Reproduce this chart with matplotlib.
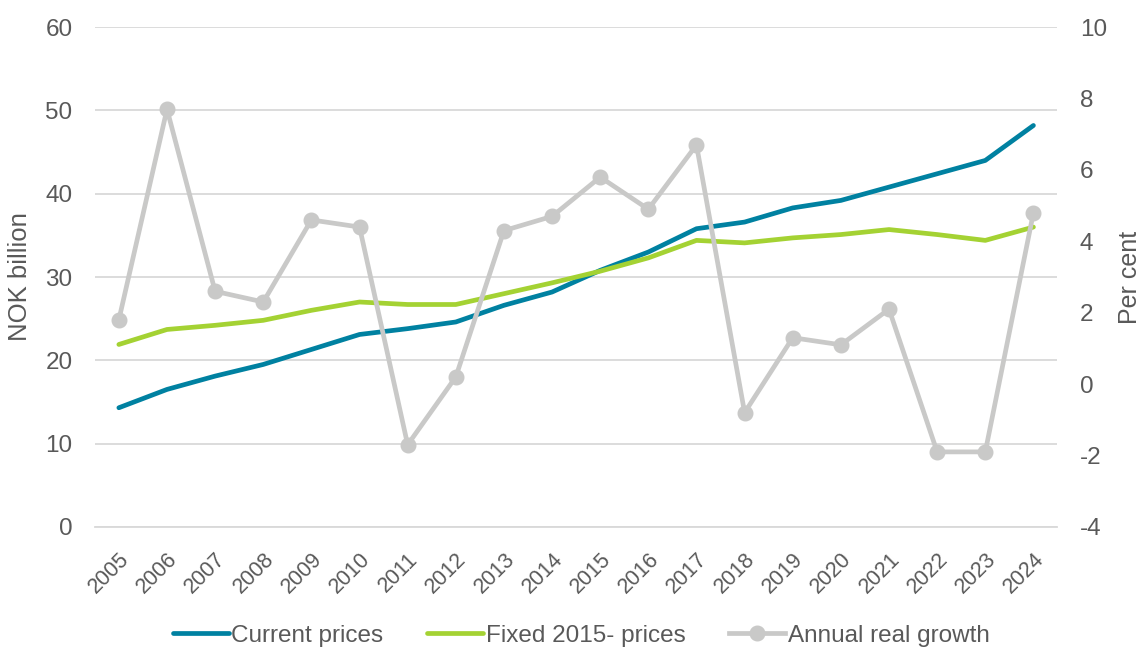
import matplotlib.pyplot as plt
from matplotlib.lines import Line2D

plt.rcParams["font.family"] = ["Liberation Sans", "DejaVu Sans"]
plt.rcParams["axes.unicode_minus"] = False

years = [str(y) for y in range(2005, 2025)]
current_prices = [14.3, 16.5, 18.1, 19.5, 21.3, 23.1, 23.8, 24.6, 26.6, 28.2,
                  30.8, 33.0, 35.8, 36.6, 38.3, 39.2, 40.8, 42.4, 44.0, 48.2]
fixed_2015_prices = [21.9, 23.7, 24.2, 24.8, 26.0, 27.0, 26.7, 26.7, 28.0, 29.3,
                     30.7, 32.3, 34.4, 34.1, 34.7, 35.1, 35.7, 35.1, 34.4, 36.0]
real_growth = [1.8, 7.7, 2.6, 2.3, 4.6, 4.4, -1.7, 0.2, 4.3, 4.7,
               5.8, 4.9, 6.7, -0.8, 1.3, 1.1, 2.1, -1.9, -1.9, 4.8]

BLUE = "#0081a1"
GREEN = "#a4d233"
GREY = "#c9c9c8"
TEXT = "#595959"
GRID = "#d9d9d9"
LW = 3.4

fig = plt.figure(figsize=(11.42, 6.48), dpi=100)
ax = fig.add_axes([0.083, 0.187, 0.843, 0.771])
ax2 = ax.twinx()

x = list(range(len(years)))

ax.plot(x, current_prices, color=BLUE, lw=LW, solid_capstyle="round", zorder=3)
ax.plot(x, fixed_2015_prices, color=GREEN, lw=LW, solid_capstyle="round", zorder=3)
ax2.plot(x, real_growth, color=GREY, lw=LW, marker="o", markersize=10.5,
         solid_capstyle="round", zorder=4)

ax.set_ylim(0, 60)
ax.set_yticks(range(0, 61, 10))
ax2.set_ylim(-4, 10)
ax2.set_yticks(range(-4, 11, 2))
ax.set_xlim(-0.5, len(years) - 0.5)
ax.set_xticks(x)
ax.set_xticklabels(years, rotation=45, ha="right", rotation_mode="anchor")

ax.grid(axis="y", color=GRID, lw=1.3)
ax.set_axisbelow(True)
for a in (ax, ax2):
    for s in a.spines.values():
        s.set_visible(False)
    a.tick_params(length=0, colors=TEXT, labelsize=17.5)
ax.tick_params(axis="x", labelsize=15.5, pad=16)
ax.tick_params(axis="y", pad=16)
ax2.tick_params(axis="y", pad=16)
ax.spines["bottom"].set_visible(True)
ax.spines["bottom"].set_color(GRID)
ax.spines["bottom"].set_linewidth(1.3)

ax.set_ylabel("NOK billion", color=TEXT, fontsize=18.5, labelpad=10)
ax2.set_ylabel("Per cent", color=TEXT, fontsize=18, labelpad=8)

handles = [
    Line2D([], [], color=BLUE, lw=LW, solid_capstyle="round"),
    Line2D([], [], color=GREEN, lw=LW, solid_capstyle="round"),
    Line2D([], [], color=GREY, lw=LW, marker="o", markersize=10.5),
]
fig.legend(handles, ["Current prices", "Fixed 2015- prices", "Annual real growth"],
           loc="lower center", bbox_to_anchor=(0.509, -0.032), ncol=3, frameon=False,
           fontsize=17.5, labelcolor=TEXT, handlelength=2.3, handletextpad=0.1,
           columnspacing=1.8)

fig.savefig("out.png", dpi=100)
